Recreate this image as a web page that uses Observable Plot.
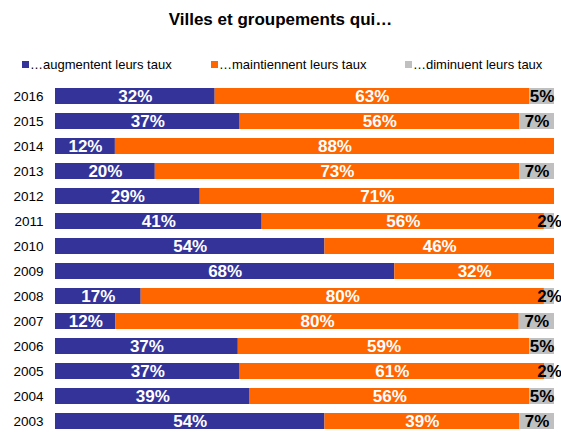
<!DOCTYPE html>
<html>
<head>
<meta charset="utf-8">
<script src="https://cdn.jsdelivr.net/npm/d3@7"></script>
<script src="https://cdn.jsdelivr.net/npm/@observablehq/plot@0.6"></script>
<style>
  html, body { margin: 0; padding: 0; background: #fff; overflow: hidden; }
  body { width: 561px; height: 432px; position: relative; font-family: "Liberation Sans", Arial, sans-serif; }
  #title { position: absolute; left: 0; top: 10px; width: 561px; text-align: center; font-weight: bold; font-size: 17px; line-height: 20px; color: #000; }
  .leg { position: absolute; top: 57px; font-size: 13px; line-height: 15px; color: #000; display: flex; align-items: center; white-space: nowrap; }
  .sw { width: 7px; height: 7px; margin-right: 1px; }
  #chart { position: absolute; left: 0; top: 83px; }
</style>
</head>
<body>
<div id="title">Villes et groupements qui…</div>
<div id="legend"></div>
<div id="chart"></div>
<script>
const years = ["2016","2015","2014","2013","2012","2011","2010","2009","2008","2007","2006","2005","2004","2003"];
const categories = ["…augmentent leurs taux", "…maintiennent leurs taux", "…diminuent leurs taux"];
const colors = ["#333399", "#FF6600", "#C0C0C0"];
const augmentent  = [32, 37, 12, 20, 29, 41, 54, 68, 17, 12, 37, 37, 39, 54];
const maintiennent = [63, 56, 88, 73, 71, 56, 46, 32, 80, 80, 59, 61, 56, 39];
const diminuent   = [5, 7, 0, 7, 0, 2, 0, 0, 2, 7, 5, 2, 5, 7];
const legendLeft = [22, 211, 405];

const series = [augmentent, maintiennent, diminuent];
const data = [];
years.forEach((y, i) => {
  series.forEach((s, k) => {
    data.push({year: y, cat: categories[k], value: s[i]});
  });
});
const labeled = data.filter(d => d.value > 0);

const legend = document.getElementById("legend");
categories.forEach((c, k) => {
  const el = document.createElement("div");
  el.className = "leg";
  el.style.left = legendLeft[k] + "px";
  el.innerHTML = `<div class="sw" style="background:${colors[k]}"></div><span>${c}</span>`;
  legend.appendChild(el);
});

const stackOpts = {offset: "normalize", order: categories};
const chart = Plot.plot({
  width: 561,
  height: 351,
  marginLeft: 55,
  marginRight: 7,
  marginTop: 0,
  marginBottom: 0,
  style: {fontFamily: "Liberation Sans, Arial, sans-serif", background: "transparent"},
  x: {domain: [0, 1], axis: null},
  y: {domain: years, paddingInner: 0.36, paddingOuter: 0.2, axis: null},
  color: {domain: categories, range: colors},
  marks: [
    Plot.barX(data, Plot.stackX({...stackOpts, x: "value", y: "year", z: "cat", fill: "cat"})),
    Plot.textX(labeled, Plot.stackX({
      ...stackOpts,
      x: "value", y: "year", z: "cat",
      text: d => d.value + "%",
      fill: d => d.cat === categories[2] ? "#000" : "#fff",
      fontWeight: "bold",
      fontSize: 17
    })),
    Plot.axisY({tickSize: 0, tickPadding: 12, fontSize: 13.5, fill: "#000", label: null}),
    Plot.ruleX([0], {stroke: "#000", strokeWidth: 1, y1: null})
  ]
});
document.getElementById("chart").appendChild(chart);
</script>
</body>
</html>
